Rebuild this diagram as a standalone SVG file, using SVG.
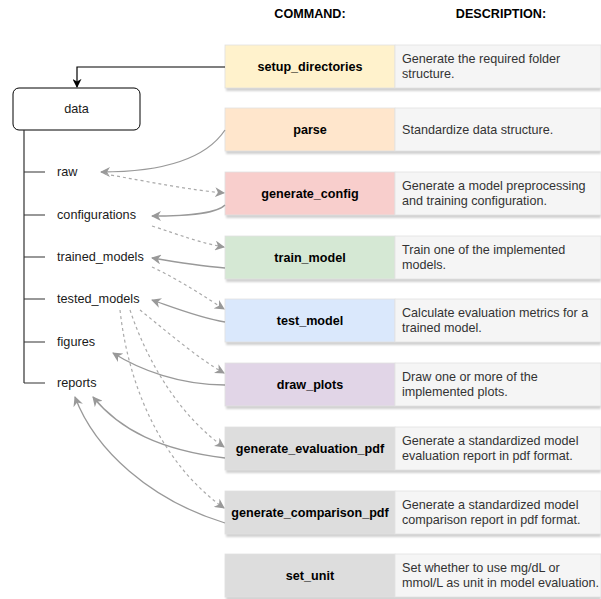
<svg xmlns="http://www.w3.org/2000/svg" width="601" height="599" viewBox="0 0 601 599">
<defs>
<style>
text{font-family:"Liberation Sans",Arial,Helvetica,sans-serif}
.hdr{font-size:12.6px;font-weight:bold;fill:#000;text-anchor:middle}
.cmd{font-size:12.6px;font-weight:bold;fill:#000;text-anchor:middle}
.dsc{font-size:12.6px;fill:#333}
.lbl{font-size:12.7px;fill:#1a1a1a}
.sh{fill:#000;opacity:0.18}
.d{fill:#f5f5f5;stroke:#e2e2e2;stroke-width:0.8}
.c{stroke:#e0e0e0;stroke-width:0.8}
.tree{stroke:#333;stroke-width:1.2;fill:none}
.s{fill:none;stroke:#999;stroke-width:1.3;marker-end:url(#ga)}
.k{fill:none;stroke:#aaa;stroke-width:1.2;stroke-dasharray:3 3;marker-end:url(#ga)}
</style>
<marker id="ga" viewBox="0 0 10 10" refX="9" refY="5" markerWidth="10" markerHeight="10" markerUnits="userSpaceOnUse" orient="auto">
<path d="M0,0 L10,5 L0,10 L3,5 z" fill="#999"/>
</marker>
<marker id="ba" viewBox="0 0 10 10" refX="9" refY="5" markerWidth="9" markerHeight="9" markerUnits="userSpaceOnUse" orient="auto">
<path d="M0,0 L10,5 L0,10 L3,5 z" fill="#000"/>
</marker>
<filter id="blur" x="-5%" y="-20%" width="110%" height="140%"><feGaussianBlur stdDeviation="1"/></filter>
</defs>

<text class="hdr" x="310" y="18">COMMAND:</text>
<text class="hdr" x="501" y="18">DESCRIPTION:</text>

<g id="data">
<rect x="13" y="88" width="127" height="42" rx="6" fill="#fff" stroke="#000" stroke-width="1"/>
<text class="lbl" x="76.5" y="113" text-anchor="middle">data</text>
</g>
<g id="tree">
<path class="tree" d="M24,130 V383 M24,172 H45 M24,215 H45 M24,257 H45 M24,299 H45 M24,342 H45 M24,383 H45"/>
<text class="lbl" x="57" y="176">raw</text>
<text class="lbl" x="57" y="219">configurations</text>
<text class="lbl" x="57" y="261">trained_models</text>
<text class="lbl" x="57" y="303">tested_models</text>
<text class="lbl" x="57" y="346">figures</text>
<text class="lbl" x="57" y="387">reports</text>
</g>

<g id="setup_directories">
<rect class="sh" x="226" y="48" width="375" height="43" filter="url(#blur)"/>
<rect class="c" x="225" y="45" width="170" height="43" fill="#fff2cc"/>
<rect class="d" x="395" y="45" width="206" height="43"/>
<text class="cmd" x="310" y="71">setup_directories</text>
<text class="dsc" x="402" y="63">Generate the required folder</text>
<text class="dsc" x="402" y="78">structure.</text>
</g>
<g id="parse">
<rect class="sh" x="226" y="111" width="375" height="43" filter="url(#blur)"/>
<rect class="c" x="225" y="108" width="170" height="43" fill="#ffe6cc"/>
<rect class="d" x="395" y="108" width="206" height="43"/>
<text class="cmd" x="310" y="134">parse</text>
<text class="dsc" x="402" y="134">Standardize data structure.</text>
</g>
<g id="generate_config">
<rect class="sh" x="226" y="175" width="375" height="43" filter="url(#blur)"/>
<rect class="c" x="225" y="172" width="170" height="43" fill="#f8cecc"/>
<rect class="d" x="395" y="172" width="206" height="43"/>
<text class="cmd" x="310" y="198">generate_config</text>
<text class="dsc" x="402" y="190">Generate a model preprocessing</text>
<text class="dsc" x="402" y="205">and training configuration.</text>
</g>
<g id="train_model">
<rect class="sh" x="226" y="239" width="375" height="43" filter="url(#blur)"/>
<rect class="c" x="225" y="236" width="170" height="43" fill="#d5e8d4"/>
<rect class="d" x="395" y="236" width="206" height="43"/>
<text class="cmd" x="310" y="262">train_model</text>
<text class="dsc" x="402" y="254">Train one of the implemented</text>
<text class="dsc" x="402" y="269">models.</text>
</g>
<g id="test_model">
<rect class="sh" x="226" y="302" width="375" height="43" filter="url(#blur)"/>
<rect class="c" x="225" y="299" width="170" height="43" fill="#dae8fc"/>
<rect class="d" x="395" y="299" width="206" height="43"/>
<text class="cmd" x="310" y="325">test_model</text>
<text class="dsc" x="402" y="317">Calculate evaluation metrics for a</text>
<text class="dsc" x="402" y="332">trained model.</text>
</g>
<g id="draw_plots">
<rect class="sh" x="226" y="366" width="375" height="43" filter="url(#blur)"/>
<rect class="c" x="225" y="363" width="170" height="43" fill="#e1d5e7"/>
<rect class="d" x="395" y="363" width="206" height="43"/>
<text class="cmd" x="310" y="389">draw_plots</text>
<text class="dsc" x="402" y="381">Draw one or more of the</text>
<text class="dsc" x="402" y="396">implemented plots.</text>
</g>
<g id="generate_evaluation_pdf">
<rect class="sh" x="226" y="430" width="375" height="43" filter="url(#blur)"/>
<rect class="c" x="225" y="427" width="170" height="43" fill="#dddddd"/>
<rect class="d" x="395" y="427" width="206" height="43"/>
<text class="cmd" x="310" y="453">generate_evaluation_pdf</text>
<text class="dsc" x="402" y="445">Generate a standardized model</text>
<text class="dsc" x="402" y="460">evaluation report in pdf format.</text>
</g>
<g id="generate_comparison_pdf">
<rect class="sh" x="226" y="494" width="375" height="43" filter="url(#blur)"/>
<rect class="c" x="225" y="491" width="170" height="43" fill="#dddddd"/>
<rect class="d" x="395" y="491" width="206" height="43"/>
<text class="cmd" x="310" y="517">generate_comparison_pdf</text>
<text class="dsc" x="402" y="509">Generate a standardized model</text>
<text class="dsc" x="402" y="524">comparison report in pdf format.</text>
</g>
<g id="set_unit">
<rect class="sh" x="226" y="557" width="375" height="43" filter="url(#blur)"/>
<rect class="c" x="225" y="554" width="170" height="43" fill="#dddddd"/>
<rect class="d" x="395" y="554" width="206" height="43"/>
<text class="cmd" x="310" y="580">set_unit</text>
<text class="dsc" x="402" y="572">Set whether to use mg/dL or</text>
<text class="dsc" x="402" y="587">mmol/L as unit in model evaluation.</text>
</g>

<g id="connectors">
<path d="M225,67 H77 V87" fill="none" stroke="#000" stroke-width="1.2" marker-end="url(#ba)"/>
<path class="s" d="M225,130 C205,160 160,172 101,172"/>
<path class="k" d="M105,174 C150,182 190,190 224,193"/>
<path class="s" d="M225,205 C215,215 180,216 152,216"/>
<path class="k" d="M152,226 C180,235 200,243 224,247"/>
<path class="s" d="M225,268 C200,266 175,262 152,258"/>
<path class="k" d="M152,267 C180,280 205,297 224,309"/>
<path class="s" d="M225,322 C200,318 175,308 152,300"/>
<path class="k" d="M140,310 C165,330 200,360 224,373"/>
<path class="k" d="M130,310 C150,370 185,420 224,447"/>
<path class="k" d="M120,310 C130,400 170,470 224,508"/>
<path class="s" d="M225,385 C180,385 140,370 113,353"/>
<path class="s" d="M225,458 C160,450 120,430 93,397"/>
<path class="s" d="M225,523 C150,500 95,450 75,397"/>
</g>
</svg>
